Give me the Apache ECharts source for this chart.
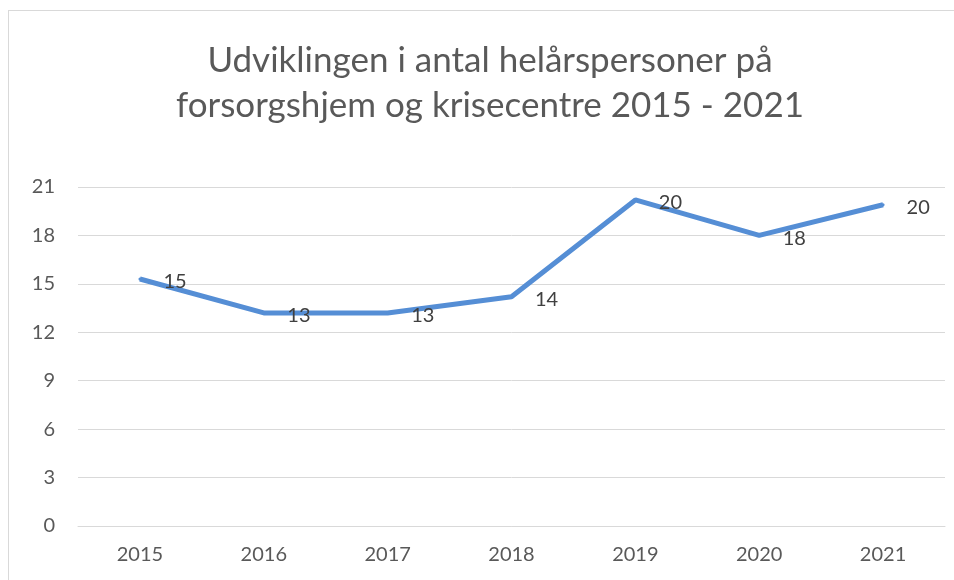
<!DOCTYPE html>
<html>
<head>
<meta charset="utf-8">
<script src="https://cdn.jsdelivr.net/npm/echarts@6/dist/echarts.min.js"></script>
<style>
  html, body { margin: 0; padding: 0; background: #fff; }
  #frame { position: absolute; left: 8px; top: 10px; width: 946px; height: 570px;
           border-left: 1px solid #d9d9d9; border-top: 1px solid #d9d9d9; }
  #chart { position: absolute; left: 0; top: 0; width: 954px; height: 580px; }
</style>
</head>
<body>
<div id="frame"></div>
<div id="chart"></div>
<script>
// Data
const years = ['2015', '2016', '2017', '2018', '2019', '2020', '2021'];
const persons = [15.3, 13.2, 13.2, 14.2, 20.2, 18.0, 19.9];

const font = 'Lato, "Open Sans", sans-serif';

var myChart = echarts.init(document.getElementById('chart'));

var option = {
    animation: false,
    title: {
        text: 'Udviklingen i antal helårspersoner på\nforsorgshjem og krisecentre 2015 - 2021',
        left: 485,
        top: 33,
        textAlign: 'center',
        textStyle: {
            fontFamily: font,
            fontSize: 35,
            fontWeight: 'normal',
            color: '#595959',
            lineHeight: 45
        }
    },
    grid: {
        left: 78,
        right: 9,
        top: 187,
        bottom: 54
    },
    xAxis: {
        type: 'category',
        data: years,
        axisLine: { lineStyle: { color: '#d9d9d9', width: 1 } },
        axisTick: { show: false },
        axisLabel: { fontFamily: font, fontSize: 20, color: '#595959', margin: 19 }
    },
    yAxis: {
        type: 'value',
        min: 0,
        max: 21,
        interval: 3,
        axisLine: { show: false },
        axisTick: { show: false },
        splitLine: { lineStyle: { color: '#d9d9d9', width: 1 } },
        axisLabel: { fontFamily: font, fontSize: 20, color: '#595959', margin: 23 }
    },
    series: [
        {
            type: 'line',
            data: persons,
            showSymbol: true,
            symbol: 'circle',
            symbolSize: 3,
            itemStyle: { color: '#558ed5' },
            lineStyle: { color: '#558ed5', width: 5 },
            label: {
                show: true,
                position: 'right',
                distance: 22,
                offset: [0, 3],
                fontFamily: font,
                fontSize: 20,
                color: '#404040',
                formatter: function (p) { return Math.round(p.value); }
            }
        }
    ]
};

option && myChart.setOption(option);
</script>
</body>
</html>
